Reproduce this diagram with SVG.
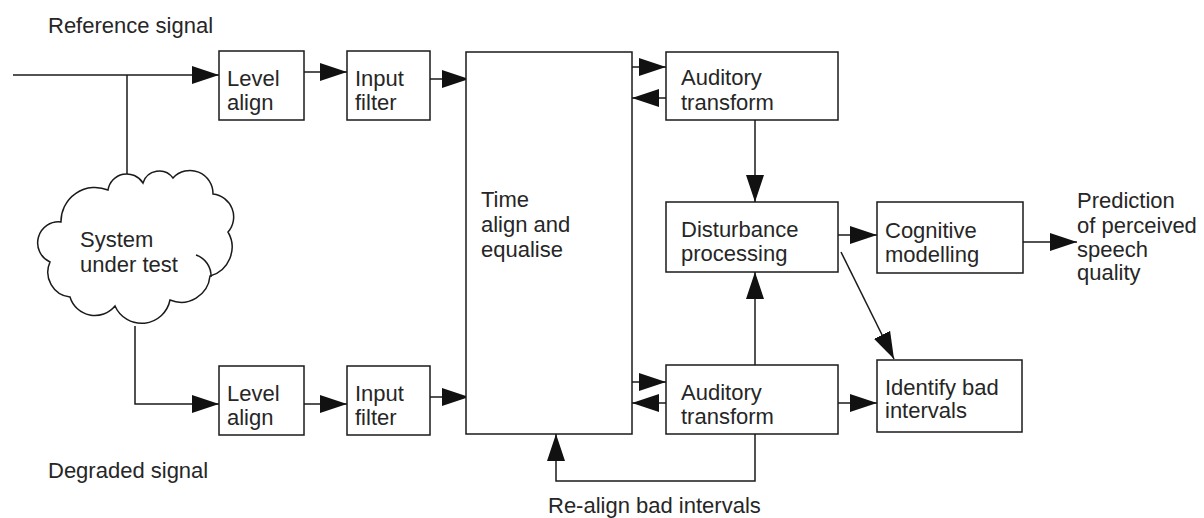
<svg xmlns="http://www.w3.org/2000/svg" width="1204" height="518" viewBox="0 0 1204 518">
  <style>
    .box { fill: #fff; stroke: #1a1a1a; stroke-width: 1.5; }
    .lbl { font-family: "Liberation Sans", Arial, sans-serif; font-size: 22px; fill: #262626; }
    .wire { fill: none; stroke: #1a1a1a; stroke-width: 1.5; }
    .arr { marker-end: url(#head); }
  </style>
  <defs>
    <marker id="head" markerUnits="userSpaceOnUse" markerWidth="28" markerHeight="20" refX="27" refY="9.5" orient="auto">
      <path d="M0,0.5 L27,9.5 L0,18.5 Z" fill="#111"/>
    </marker>
  </defs>
  <rect width="1204" height="518" fill="#fff"/>

  <!-- free-standing signal labels -->
  <text class="lbl" x="48" y="33">Reference signal</text>
  <text class="lbl" x="48" y="478">Degraded signal</text>
  <text class="lbl" x="548" y="513">Re-align bad intervals</text>
  <g id="output-label">
    <text class="lbl" x="1077" y="208">Prediction</text>
    <text class="lbl" x="1077" y="233">of perceived</text>
    <text class="lbl" x="1077" y="257">speech</text>
    <text class="lbl" x="1077" y="280">quality</text>
  </g>

  <!-- connectors -->
  <g id="connectors">
    <path class="wire arr" d="M13,75 H219"/>
    <path class="wire" d="M127,75 V174"/>
    <path class="wire arr" d="M304,72 H347"/>
    <path class="wire arr" d="M430,79 H469"/>
    <path class="wire arr" d="M632,67 H666"/>
    <path class="wire arr" d="M666,98 H632"/>
    <path class="wire arr" d="M755,120 V202"/>
    <path class="wire arr" d="M838,235 H877"/>
    <path class="wire arr" d="M1023,242 H1077"/>
    <path class="wire arr" d="M841,252 L894,359"/>
    <path class="wire arr" d="M135,326 V404 H219"/>
    <path class="wire arr" d="M304,404 H347"/>
    <path class="wire arr" d="M430,397 H469"/>
    <path class="wire arr" d="M632,382 H666"/>
    <path class="wire arr" d="M666,403 H632"/>
    <path class="wire arr" d="M755,365 V272"/>
    <path class="wire arr" d="M838,403 H877"/>
    <path class="wire arr" d="M755,434 V481 H556 V434"/>
  </g>

  <!-- system under test (cloud) -->
  <g id="system-under-test">
    <path class="box" d="M50,262 A21,21 0 0 1 61,222 A34,34 0 0 1 108,190 A19,19 0 0 1 143,183 A17,17 0 0 1 173,178 A23,23 0 0 1 213,194 A23,23 0 0 1 228,232 A30,30 0 0 1 210,276 A29,29 0 0 1 170,300 A29,29 0 0 1 115,306 A26,26 0 0 1 70,297 A25,25 0 0 1 50,262 Z"/>
    <path class="wire" d="M196,255 A22,22 0 0 1 211,277"/>
    <text class="lbl" x="80" y="247">System</text>
    <text class="lbl" x="80" y="272">under test</text>
  </g>

  <!-- reference path -->
  <g id="level-align-ref">
    <rect class="box" x="219" y="51" width="85" height="69"/>
    <text class="lbl" x="227" y="86">Level</text>
    <text class="lbl" x="227" y="110">align</text>
  </g>
  <g id="input-filter-ref">
    <rect class="box" x="347" y="51" width="83" height="69"/>
    <text class="lbl" x="355" y="86">Input</text>
    <text class="lbl" x="355" y="110">filter</text>
  </g>

  <!-- degraded path -->
  <g id="level-align-deg">
    <rect class="box" x="219" y="366" width="85" height="69"/>
    <text class="lbl" x="227" y="401">Level</text>
    <text class="lbl" x="227" y="425">align</text>
  </g>
  <g id="input-filter-deg">
    <rect class="box" x="347" y="366" width="83" height="69"/>
    <text class="lbl" x="355" y="401">Input</text>
    <text class="lbl" x="355" y="425">filter</text>
  </g>

  <g id="time-align">
    <rect class="box" x="466" y="52" width="166" height="382"/>
    <text class="lbl" x="481" y="207">Time</text>
    <text class="lbl" x="481" y="232">align and</text>
    <text class="lbl" x="481" y="257">equalise</text>
  </g>

  <g id="auditory-ref">
    <rect class="box" x="666" y="52" width="172" height="68"/>
    <text class="lbl" x="681" y="85">Auditory</text>
    <text class="lbl" x="681" y="110">transform</text>
  </g>
  <g id="disturbance">
    <rect class="box" x="666" y="202" width="172" height="70"/>
    <text class="lbl" x="681" y="237">Disturbance</text>
    <text class="lbl" x="681" y="261">processing</text>
  </g>
  <g id="auditory-deg">
    <rect class="box" x="666" y="365" width="172" height="69"/>
    <text class="lbl" x="681" y="400">Auditory</text>
    <text class="lbl" x="681" y="424">transform</text>
  </g>
  <g id="cognitive">
    <rect class="box" x="877" y="202" width="146" height="71"/>
    <text class="lbl" x="885" y="238">Cognitive</text>
    <text class="lbl" x="885" y="262">modelling</text>
  </g>
  <g id="identify">
    <rect class="box" x="877" y="360" width="145" height="72"/>
    <text class="lbl" x="885" y="395">Identify bad</text>
    <text class="lbl" x="885" y="418">intervals</text>
  </g>
</svg>
